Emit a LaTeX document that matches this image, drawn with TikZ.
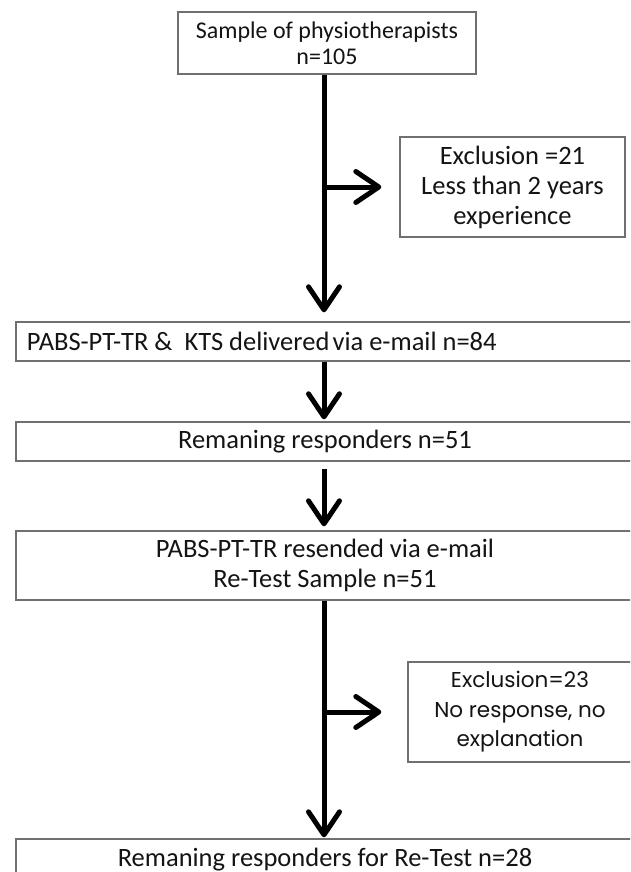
\documentclass[tikz,border=0pt]{standalone}
\usepackage{fontspec}
\setmainfont{Carlito}
\newfontfamily\geofont{Poppins}
\usetikzlibrary{arrows.meta}
\definecolor{boxgray}{RGB}{112,112,112}
\definecolor{ink}{RGB}{20,20,20}
\begin{document}
\begin{tikzpicture}[x=1pt,y=-1pt,
  box/.style={draw=boxgray, line width=1.4pt, fill=white, inner sep=0pt,
    text=ink, align=center, font=\fontsize{26.5}{30}\selectfont},
  flow/.style={line width=5pt, draw=black,
    -{Straight Barb[length=23pt,width=31pt,round]}}]
  \clip (0,0) rectangle (630,872);
  \fill[white] (0,0) rectangle (630,872);

  % main column
  \node[box, minimum width=298pt, minimum height=62pt,
        font=\fontsize{24}{26}\selectfont] (top) at (327,43)
       {Sample of physiotherapists\\n=105};
  \node[box, minimum width=618pt, minimum height=39pt, text width=596pt,
        align=flush left] (mail) at (325,341.5)
       {PABS-PT-TR \&\ \ KTS delivered\hspace{0.12em}via e-mail n=84};
  \node[box, minimum width=618pt, minimum height=39pt] (resp) at (325,441.5)
       {Remaning responders n=51};
  \node[box, minimum width=618pt, minimum height=69pt] (resend) at (325,565.5)
       {PABS-PT-TR resended via e-mail\\Re-Test Sample n=51};
  \node[box, minimum width=618pt, minimum height=42pt] (final) at (325,860)
       {Remaning responders for Re-Test n=28};

  % exclusion boxes
  \node[box, minimum width=225pt, minimum height=100pt] (ex1) at (512.5,187)
       {Exclusion =21\\Less than 2 years\\experience};
  \node[box, minimum width=224pt, minimum height=100pt,
        font=\geofont\fontsize{21.5}{29.5}\selectfont] (ex2) at (520,712)
       {Exclusion=23\\No response, no\\explanation};

  % spine of the flow
  \coordinate (s) at (324,0);

  \draw[flow, shorten >=9pt] (top.south -| s) -- (mail.north -| s);
  \draw[flow, shorten >=18pt] (ex1.west -| s) -- (ex1.west);
  \draw[flow, shorten >=2pt] (mail.south -| s) -- (resp.north -| s);
  \draw[flow, shorten <=7pt, shorten >=4pt] (resp.south -| s) -- (resend.north -| s);
  \draw[flow, shorten >=1pt] (resend.south -| s) -- (final.north -| s);
  \draw[flow, shorten >=26pt] (ex2.west -| s) -- (ex2.west);
\end{tikzpicture}
\end{document}
